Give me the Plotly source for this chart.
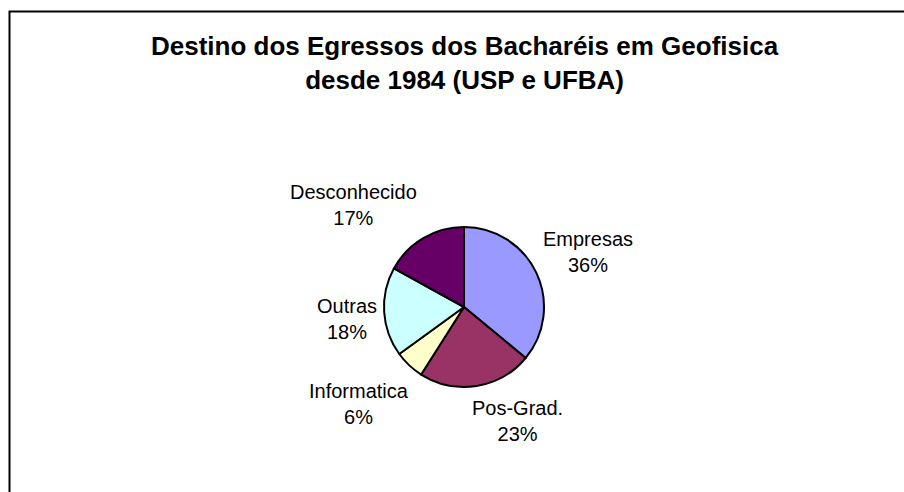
import plotly.graph_objects as go

# Destination of geophysics graduates (share of total, %)
categories = ["Empresas", "Pos-Grad.", "Informatica", "Outras", "Desconhecido"]
shares = [36, 23, 6, 18, 17]
slice_colors = ["#9999FF", "#993366", "#FFFFCC", "#CCFFFF", "#660066"]

title_lines = ["Destino dos Egressos dos Bacharéis em Geofisica", "desde 1984 (USP e UFBA)"]

W, H = 904, 492
FONT = "Liberation Sans, Arial, sans-serif"

# label block centres in pixels (canvas coordinates)
label_pos = {
    "Empresas": (588, 252),
    "Pos-Grad.": (517, 421),
    "Informatica": (359, 404),
    "Outras": (347, 319),
    "Desconhecido": (353, 205),
}

def px(x, y):
    return x / W, 1 - y / H

cx, cy, r = 464, 307, 80
x0, y1 = px(cx - r, cy - r)
x1, y0 = px(cx + r, cy + r)

fig = go.Figure(go.Pie(
    labels=categories,
    values=shares,
    sort=False,
    direction="clockwise",
    rotation=0,
    marker=dict(colors=slice_colors, line=dict(color="black", width=2)),
    textinfo="none",
    hoverinfo="label+percent",
    showlegend=False,
    domain=dict(x=[x0, x1], y=[y0, y1]),
))

annotations = []
for name, val in zip(categories, shares):
    lx, ly = px(*label_pos[name])
    annotations.append(dict(
        x=lx, y=ly, xref="paper", yref="paper",
        text=f"{name}<br>{val}%", showarrow=False,
        xanchor="center", yanchor="middle",
        font=dict(family=FONT, size=20, color="black"),
    ))

tx, ty = px(465, 63)
annotations.append(dict(
    x=tx, y=ty, xref="paper", yref="paper",
    text="<b>" + "<br>".join(title_lines) + "</b>", showarrow=False,
    xanchor="center", yanchor="middle",
    font=dict(family=FONT, size=26, color="black"),
))

bx0, by1 = px(9.5, 11.5)
fig.update_layout(
    width=W, height=H,
    margin=dict(l=0, r=0, t=0, b=0),
    paper_bgcolor="white",
    plot_bgcolor="white",
    annotations=annotations,
    shapes=[dict(
        type="rect", xref="paper", yref="paper",
        x0=bx0, x1=1.02, y0=-0.02, y1=by1,
        line=dict(color="black", width=2),
    )],
)

fig.write_html("out.html")
